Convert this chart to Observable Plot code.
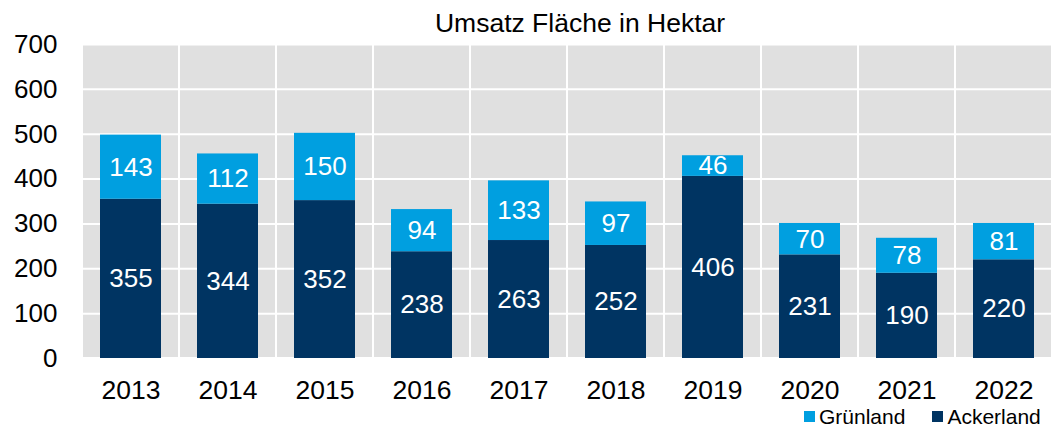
<!DOCTYPE html>
<html>
<head>
<meta charset="utf-8">
<script src="https://cdn.jsdelivr.net/npm/d3@7"></script>
<script src="https://cdn.jsdelivr.net/npm/@observablehq/plot@0.6"></script>
<style>
  html, body { margin: 0; padding: 0; background: #fff; }
  #wrap { position: relative; width: 1052px; height: 428px; font-family: "Liberation Sans", Arial, sans-serif; }
  #title { position: absolute; left: 380px; width: 400px; top: 10px; text-align: center; font-size: 26.5px; line-height: 26px; color: #000; }
  #legend { position: absolute; left: 804px; top: 407px; display: flex; align-items: center; font-size: 21px; line-height: 19px; color: #000; }
  #legend .sw { width: 11px; height: 11px; display: inline-block; margin-right: 4px; }
  #legend .item { display: flex; align-items: center; margin-right: 27px; }
  #legend .item:last-child { margin-right: 0; }
</style>
</head>
<body>
<div id="wrap">
  <div id="title">Umsatz Fläche in Hektar</div>
  <div id="chart"></div>
  <div id="legend"></div>
</div>
<script>
const years = ["2013","2014","2015","2016","2017","2018","2019","2020","2021","2022"];
const ackerland = [355, 344, 352, 238, 263, 252, 406, 231, 190, 220];
const gruenland = [143, 112, 150, 94, 133, 97, 46, 70, 78, 81];
const series = ["Ackerland", "Grünland"];
const colors = ["#003462", "#009fe0"];
const yTicks = [0, 100, 200, 300, 400, 500, 600, 700];

const rows = [];
years.forEach((yr, i) => {
  rows.push({year: yr, type: "Ackerland", value: ackerland[i]});
  rows.push({year: yr, type: "Grünland", value: gruenland[i]});
});

const chart = Plot.plot({
  width: 1052,
  height: 428,
  marginTop: 44,
  marginBottom: 70,
  marginLeft: 81,
  marginRight: 0,
  style: {fontFamily: "'Liberation Sans', Arial, sans-serif", fontSize: "26px", background: "transparent"},
  x: {domain: years, padding: 0, label: null},
  y: {domain: [0, 700], label: null},
  color: {domain: series, range: colors},
  marks: [
    Plot.barY(years, {x: d => d, y1: 0, y2: 700, fill: "#e0e0e0", stroke: "#ffffff", strokeWidth: 2, inset: 0}),
    Plot.gridY(yTicks, {stroke: "#ffffff", strokeOpacity: 1, strokeWidth: 2}),
    Plot.barY(rows, {x: "year", y: "value", z: "type", fill: "type", insetLeft: 18, insetRight: 18, order: series}),
    Plot.text(rows, Plot.stackY({x: "year", y: "value", z: "type", text: d => String(d.value), fill: "#ffffff", fontSize: 26, order: series})),
    Plot.axisY(yTicks, {tickSize: 0, tickPadding: 24, fontSize: 26, fill: "#000", label: null}),
    Plot.axisX({tickSize: 0, tickPadding: 22, fontSize: 26.5, fill: "#000", label: null})
  ]
});
document.getElementById("chart").appendChild(chart);

const legend = document.getElementById("legend");
["Grünland", "Ackerland"].forEach(name => {
  const item = document.createElement("span");
  item.className = "item";
  const sw = document.createElement("span");
  sw.className = "sw";
  sw.style.background = colors[series.indexOf(name)];
  item.appendChild(sw);
  item.appendChild(document.createTextNode(name));
  legend.appendChild(item);
});
</script>
</body>
</html>
